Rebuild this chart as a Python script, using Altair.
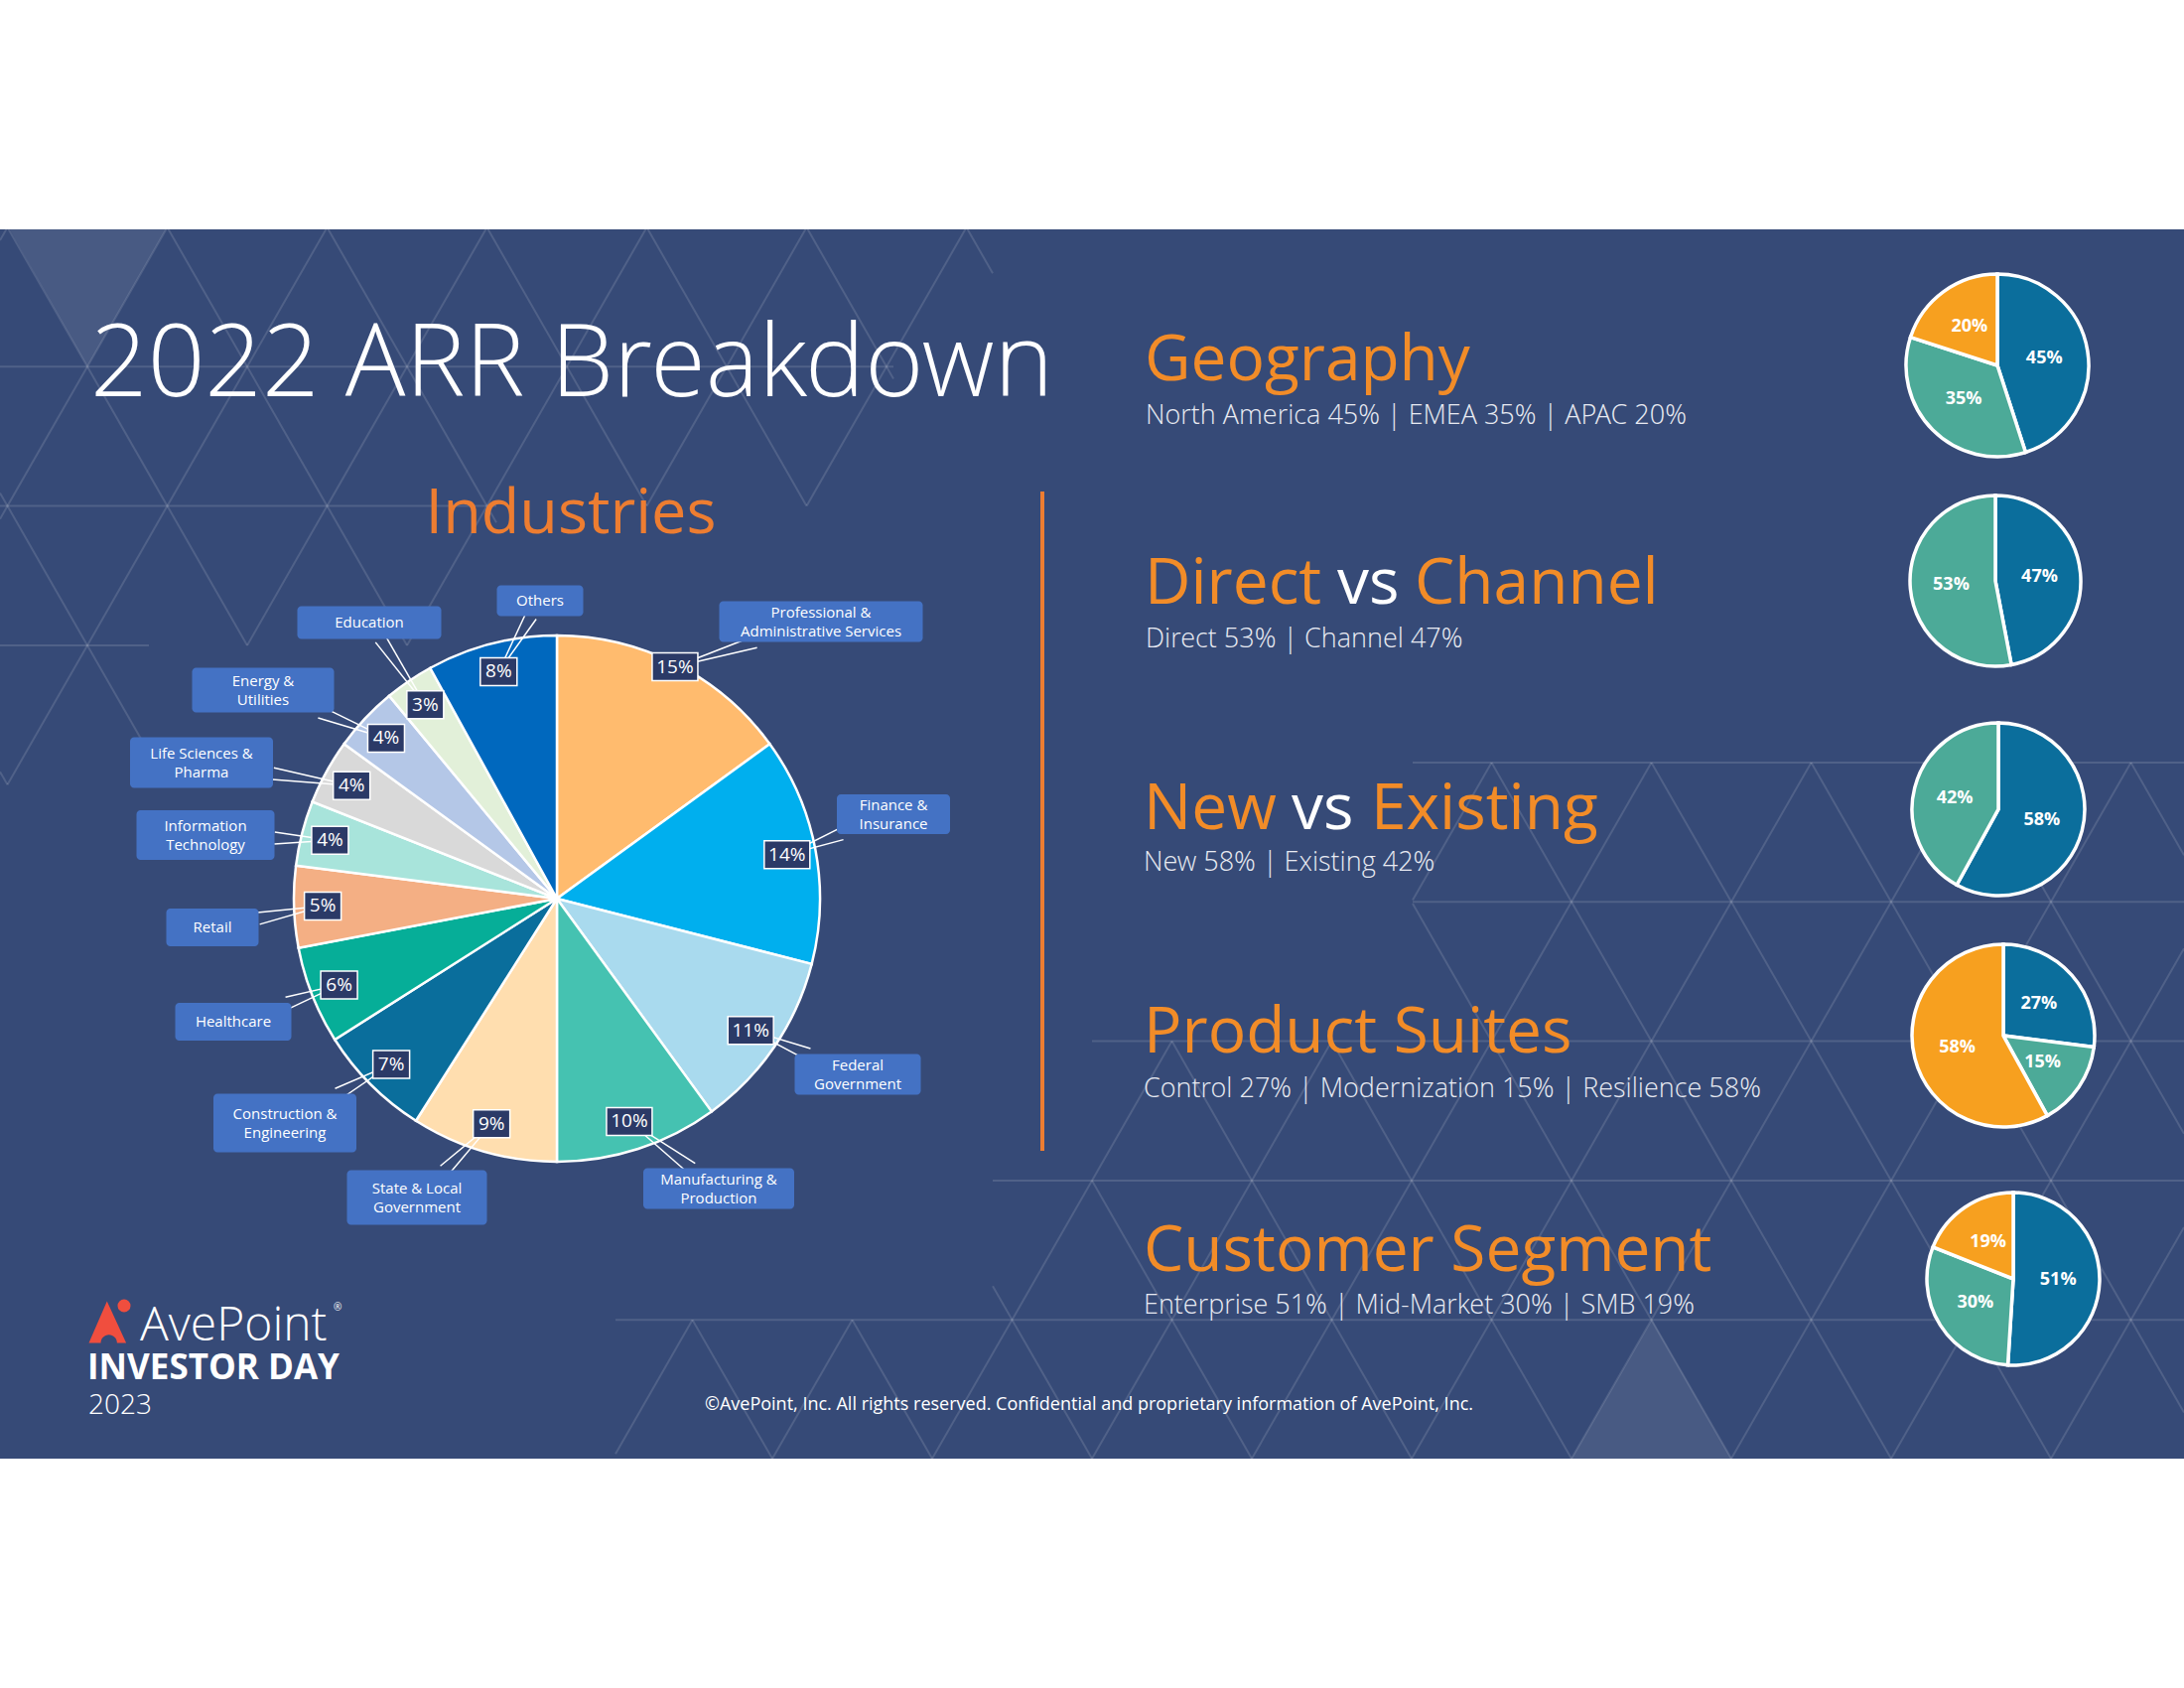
import math
import altair as alt
import numpy as np
import pandas as pd

# ---------------- data ----------------
ind_names = ["Professional & Administrative Services", "Finance & Insurance", "Federal Government",
             "Manufacturing & Production", "State & Local Government", "Construction & Engineering",
             "Healthcare", "Retail", "Information Technology", "Life Sciences & Pharma",
             "Energy & Utilities", "Education", "Others"]
ind_labels = ["Professional &\nAdministrative Services", "Finance &\nInsurance", "Federal\nGovernment",
              "Manufacturing &\nProduction", "State & Local\nGovernment", "Construction &\nEngineering",
              "Healthcare", "Retail", "Information\nTechnology", "Life Sciences &\nPharma",
              "Energy &\nUtilities", "Education", "Others"]
ind_values = [15, 14, 11, 10, 9, 7, 6, 5, 4, 4, 4, 3, 8]

geo_names = ["North America", "EMEA", "APAC"]
geo_values = [45, 35, 20]
dc_names = ["Channel", "Direct"]
dc_values = [47, 53]
ne_names = ["New", "Existing"]
ne_values = [58, 42]
ps_names = ["Control", "Modernization", "Resilience"]
ps_values = [27, 15, 58]
cs_names = ["Enterprise", "Mid-Market", "SMB"]
cs_values = [51, 30, 19]

# ---------------- styles / layout ----------------
W, H = 2200, 1700
NAVY = "#364A77"
ORANGE = "#F28C28"
ORANGE2 = "#ED7D31"
BOXBLUE = "#4472C4"
PCTBOX = "#2B3A67"
FONT = "Open Sans"
LIGHT = "'Open Sans Light', 'Noto Sans Light', 'Noto Sans', 'Open Sans'"

ind_colors = ["#FFBB6E", "#00AFEE", "#A9DAEE", "#45C2B1", "#FFDEAF", "#0A6E9C", "#06AE98",
              "#F4AF84", "#A8E4DB", "#D9D9D9", "#B4C7E7", "#E2F0D9", "#0068BE"]
BLUE, TEAL, ORG = "#0B6E9C", "#4CAA98", "#F7A01F"

PIE_CX, PIE_CY, PIE_R = 561, 905, 265
pct_r = [262, 236, 236, 236, 236, 236, 236, 236, 236, 236, 236, 236, 236]
# label boxes: center x, center y, width, height
box_cx = [827, 900, 864, 724, 420, 287, 235, 214, 207, 203, 265, 372, 544]
box_cy = [626, 820, 1082, 1197, 1206, 1131, 1029, 934, 841, 768, 695, 627, 605]
box_w = [205, 114, 127, 152, 141, 144, 117, 93, 139, 144, 143, 145, 87]
box_h = [41, 40, 41, 41, 55, 59, 38, 38, 50, 51, 45, 33, 31]
LH = 19


def px(f):
    return alt.X(f, scale=None, axis=None)


def py(f):
    return alt.Y(f, scale=None, axis=None)


layers = []

# ---- background band
layers.append(alt.Chart(pd.DataFrame({"a": [0]})).mark_rect(color=NAVY).encode(
    x=alt.value(0), x2=alt.value(W), y=alt.value(231), y2=alt.value(1469)))


# ---- decorative triangle lattice
def clip_seg(x1, y1, x2, y2, xa, xb):
    if max(x1, x2) < xa or min(x1, x2) > xb:
        return None
    if x1 == x2:
        return (x1, y1, x2, y2)
    def at(x):
        return y1 + (y2 - y1) * (x - x1) / (x2 - x1)
    if x1 < xa:
        x1, y1 = xa, at(xa)
    if x2 < xa:
        x2, y2 = xa, at(xa)
    if x1 > xb:
        x1, y1 = xb, at(xb)
    if x2 > xb:
        x2, y2 = xb, at(xb)
    return (x1, y1, x2, y2)


def lattice(row_x, y0, x_ref, P=161.0, Hh=140.3, top_line=True):
    segs = []
    for r, (xa, xb) in enumerate(row_x):
        ya, yb = y0 + r * Hh, y0 + (r + 1) * Hh
        if r > 0 or top_line:
            segs.append((xa, ya, xb, ya))
        off = x_ref + (r % 2) * P / 2
        k = off - P * math.ceil((off - xa) / P + 1)
        while k <= xb + P:
            for s in (clip_seg(k, ya, k + P / 2, yb, xa, xb), clip_seg(k, ya, k - P / 2, yb, xa, xb)):
                if s:
                    segs.append(s)
            k += P
    return segs


segs = []
segs += lattice([(0, 1000), (0, 900), (0, 500), (0, 150)], 229, 7.5, top_line=False)
segs += lattice([(1423, W), (1423, W), (1100, W), (1000, W), (620, W)], 768, 1261 + 80.5)
lat = pd.DataFrame(segs, columns=["x", "y", "x2", "y2"])
lat["y"] = lat.y.clip(upper=1469)
lat["y2"] = lat.y2.clip(upper=1469)
layers.append(alt.Chart(lat).mark_rule(color="white", opacity=0.13, strokeWidth=2).encode(
    x=px("x:Q"), y=py("y:Q"), x2="x2:Q", y2="y2:Q"))

# lighter highlighted triangles
tri = pd.DataFrame({"x": [10, 167, 88, 10, 1583, 1744, 1664, 1583],
                    "y": [231, 231, 369, 231, 1469, 1469, 1329, 1469],
                    "g": [0, 0, 0, 0, 1, 1, 1, 1], "o": [0, 1, 2, 3, 0, 1, 2, 3]})
layers.append(alt.Chart(tri).mark_line(color="white", opacity=0.09, filled=True, strokeWidth=0).encode(
    x=px("x:Q"), y=py("y:Q"), detail="g:N", order="o:Q"))

# ---- titles
titles = pd.DataFrame({"x": [91], "y": [399], "t": ["2022 ARR Breakdown"]})
layers.append(alt.Chart(titles).mark_text(font=LIGHT, fontSize=101, fontWeight=300, color="white",
                                          align="left", baseline="alphabetic").encode(
    x=px("x:Q"), y=py("y:Q"), text="t:N"))
ind_t = pd.DataFrame({"x": [575], "y": [537], "t": ["Industries"]})
layers.append(alt.Chart(ind_t).mark_text(font=FONT, fontSize=63, color=ORANGE2,
                                         align="center", baseline="alphabetic").encode(
    x=px("x:Q"), y=py("y:Q"), text="t:N"))

# separator
layers.append(alt.Chart(pd.DataFrame({"a": [0]})).mark_rule(color=ORANGE2, strokeWidth=4).encode(
    x=alt.value(1050), y=alt.value(495), y2=alt.value(1159)))

# ---- main industries pie
ind = pd.DataFrame({"name": ind_names, "value": ind_values, "idx": range(len(ind_names)),
                    "col": ind_colors, "label": ind_labels})
layers.append(alt.Chart(ind).mark_arc(outerRadius=PIE_R, stroke="white", strokeWidth=2.5).encode(
    theta=alt.Theta("value:Q", stack=True),
    order=alt.Order("idx:Q"),
    color=alt.Color("col:N", scale=None),
    x=alt.value(PIE_CX), y=alt.value(PIE_CY)))

# percentage box positions from slice mid-angles
cum = np.cumsum(ind_values)
mid = 2 * np.pi * (cum - np.array(ind_values) / 2) / cum[-1]
ind["px"] = PIE_CX + np.array(pct_r) * np.sin(mid)
ind["py"] = PIE_CY - np.array(pct_r) * np.cos(mid)
ind["pct"] = [f"{v}%" for v in ind_values]
ind["bw"] = [46 if v >= 10 else 37 for v in ind_values]
ind["bx1"] = ind.px - ind.bw / 2
ind["bx2"] = ind.px + ind.bw / 2
ind["by1"] = ind.py - 14
ind["by2"] = ind.py + 14
ind["lx"] = box_cx
ind["ly"] = np.array(box_cy) - np.array([l.count("\n") for l in ind_labels]) * LH / 2
ind["lx1"] = np.array(box_cx) - np.array(box_w) / 2
ind["lx2"] = np.array(box_cx) + np.array(box_w) / 2
ind["ly1"] = np.array(box_cy) - np.array(box_h) / 2
ind["ly2"] = np.array(box_cy) + np.array(box_h) / 2

# leader wedges
lead = []
for i in range(len(ind)):
    cx, cy = box_cx[i], box_cy[i]
    tx, ty = ind.px[i], ind.py[i]
    dx, dy = tx - cx, ty - cy
    t = min((box_w[i] / 2) / max(abs(dx), 1e-6), (box_h[i] / 2) / max(abs(dy), 1e-6))
    ex, ey = cx + dx * t, cy + dy * t
    L = math.hypot(dx, dy)
    nx, ny = -dy / L * 6, dx / L * 6
    lead.append((ex + nx, ey + ny, tx, ty))
    lead.append((ex - nx, ey - ny, tx, ty))
lead = pd.DataFrame(lead, columns=["x", "y", "x2", "y2"])
layers.append(alt.Chart(lead).mark_rule(color="white", strokeWidth=1.5).encode(
    x=px("x:Q"), y=py("y:Q"), x2="x2:Q", y2="y2:Q"))

layers.append(alt.Chart(ind).mark_rect(color=BOXBLUE, cornerRadius=4).encode(
    x=px("lx1:Q"), x2="lx2:Q", y=py("ly1:Q"), y2="ly2:Q"))
layers.append(alt.Chart(ind).mark_text(font=FONT, fontSize=15, color="white", lineBreak="\n",
                                       lineHeight=LH, align="center", baseline="middle").encode(
    x=px("lx:Q"), y=py("ly:Q"), text="label:N"))
layers.append(alt.Chart(ind).mark_rect(color=PCTBOX, stroke="white", strokeWidth=1.5).encode(
    x=px("bx1:Q"), x2="bx2:Q", y=py("by1:Q"), y2="by2:Q"))
layers.append(alt.Chart(ind).mark_text(font=FONT, fontSize=19, color="white",
                                       align="center", baseline="middle").encode(
    x=px("px:Q"), y=py("py:Q"), text="pct:N"))

# ---- small pies
small = [
    (geo_names, geo_values, [BLUE, TEAL, ORG], 2012, 368, 92),
    (dc_names, dc_values, [BLUE, TEAL], 2010, 585, 86),
    (ne_names, ne_values, [BLUE, TEAL], 2013, 815, 87),
    (ps_names, ps_values, [BLUE, TEAL, ORG], 2018, 1043, 92),
    (cs_names, cs_values, [BLUE, TEAL, ORG], 2028, 1288, 87),
]
for names, vals, cols, cx, cy, r in small:
    d = pd.DataFrame({"name": names, "value": vals, "idx": range(len(vals)), "col": cols})
    layers.append(alt.Chart(d).mark_arc(outerRadius=r, stroke="white", strokeWidth=3.5).encode(
        theta=alt.Theta("value:Q", stack=True),
        order=alt.Order("idx:Q"),
        color=alt.Color("col:N", scale=None),
        x=alt.value(cx), y=alt.value(cy)))
    c = np.cumsum(vals)
    m = 2 * np.pi * (c - np.array(vals) / 2) / c[-1]
    d["lx"] = cx + 0.52 * r * np.sin(m)
    d["ly"] = cy - 0.52 * r * np.cos(m)
    d["t"] = [f"{v}%" for v in vals]
    layers.append(alt.Chart(d).mark_text(font=FONT, fontSize=18, fontWeight="bold", color="white",
                                         align="center", baseline="middle").encode(
        x=px("lx:Q"), y=py("ly:Q"), text="t:N"))

# ---- right headings
WHITE = "white"
head = pd.DataFrame({
    "t": ["Geography", "Direct", "vs", "Channel", "New", "vs", "Existing", "Product Suites", "Customer Segment"],
    "x": [1153, 1153, 1347, 1425, 1152, 1301, 1381, 1152, 1152],
    "y": [383, 608, 608, 608, 835, 835, 835, 1060, 1280],
    "c": [ORANGE, ORANGE, WHITE, ORANGE, ORANGE, WHITE, ORANGE, ORANGE, ORANGE],
})
layers.append(alt.Chart(head).mark_text(font=FONT, fontSize=64, align="left", baseline="alphabetic").encode(
    x=px("x:Q"), y=py("y:Q"), text="t:N", color=alt.Color("c:N", scale=None)))


def sub(names, vals):
    return " | ".join(f"{n} {v}%" for n, v in zip(names, vals))


subs = pd.DataFrame({
    "t": [sub(geo_names, geo_values), sub(dc_names[::-1], dc_values[::-1]), sub(ne_names, ne_values),
          sub(ps_names, ps_values), sub(cs_names, cs_values)],
    "x": [1154, 1154, 1152, 1152, 1152],
    "y": [427, 652, 877, 1105, 1323],
})
layers.append(alt.Chart(subs).mark_text(font=LIGHT, fontSize=27, fontWeight=300, color="#E8EAF2",
                                        align="left", baseline="alphabetic").encode(
    x=px("x:Q"), y=py("y:Q"), text="t:N"))

# ---- footer
logo = pd.DataFrame({"x": [111], "y": [1331]})
layers.append(alt.Chart(logo).mark_point(
    shape="M-1,1 L-0.15,-0.95 L0.75,1 L0.32,1 A0.38,0.38 0 0 0 -0.44,1 Z",
    filled=True, color="#F04E3E", opacity=1, size=1850).encode(x=px("x:Q"), y=py("y:Q")))
head_dot = pd.DataFrame({"x": [125], "y": [1315]})
layers.append(alt.Chart(head_dot).mark_point(shape="circle", filled=True, color="#F04E3E",
                                             opacity=1, size=170).encode(x=px("x:Q"), y=py("y:Q")))
foot = pd.DataFrame({"t": ["AvePoint", "2023"], "x": [141, 89], "y": [1350, 1424], "s": [48, 28]})
layers.append(alt.Chart(foot).mark_text(font=LIGHT, fontWeight=300, color="white", align="left",
                                        baseline="alphabetic").encode(
    x=px("x:Q"), y=py("y:Q"), text="t:N", size=alt.Size("s:Q", scale=None)))
reg = pd.DataFrame({"t": ["®"], "x": [336], "y": [1320]})
layers.append(alt.Chart(reg).mark_text(font=FONT, fontSize=10, color="white", align="left",
                                       baseline="alphabetic").encode(x=px("x:Q"), y=py("y:Q"), text="t:N"))
inv = pd.DataFrame({"t": ["INVESTOR DAY"], "x": [88], "y": [1389]})
layers.append(alt.Chart(inv).mark_text(font=FONT, fontSize=35, fontWeight="bold", color="white", align="left",
                                       baseline="alphabetic").encode(x=px("x:Q"), y=py("y:Q"), text="t:N"))
copy = pd.DataFrame({"t": ["©AvePoint, Inc. All rights reserved. Confidential and proprietary information of AvePoint, Inc."],
                     "x": [1097], "y": [1420]})
layers.append(alt.Chart(copy).mark_text(font=FONT, fontSize=18, color="white", align="center",
                                        baseline="alphabetic").encode(x=px("x:Q"), y=py("y:Q"), text="t:N"))

chart = alt.layer(*layers).properties(
    width=W, height=H, padding=0, background="white",
    autosize=alt.AutoSizeParams(type="none"),
).resolve_scale(theta="independent").configure_view(stroke=None)

chart.save("out.html", embed_options={"renderer": "svg", "actions": False})
